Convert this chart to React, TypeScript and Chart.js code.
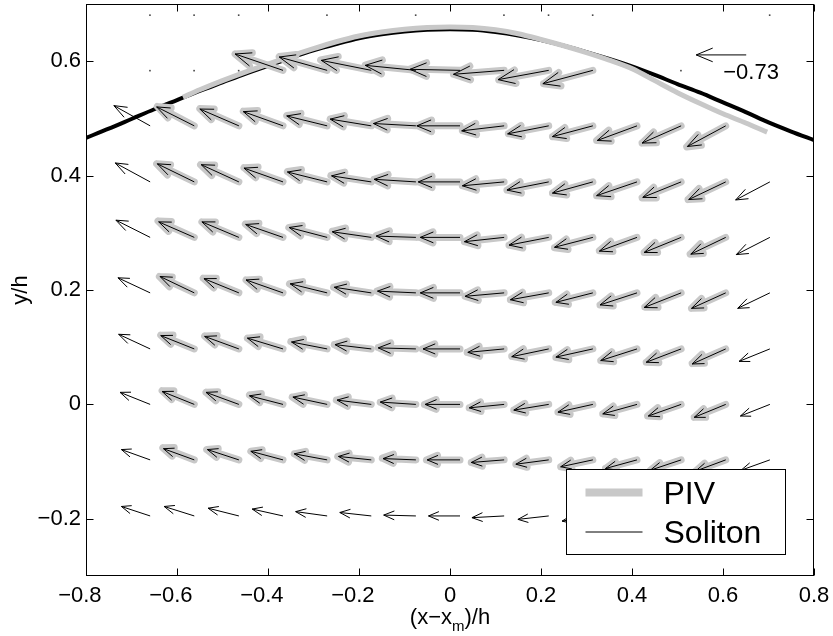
import React, { useEffect, useRef } from 'react';
import { Chart, registerables } from 'chart.js';
Chart.register(...registerables);

const FONT = '"Liberation Sans", Arial, Helvetica, sans-serif';

// ---- axes ----
const xTickValues = [-0.8, -0.6, -0.4, -0.2, 0, 0.2, 0.4, 0.6, 0.8];
const xTickLabels = ['−0.8', '−0.6', '−0.4', '−0.2', '0', '0.2', '0.4', '0.6', '0.8'];
const yTickValues = [-0.2, 0, 0.2, 0.4, 0.6];
const yTickLabels = ['−0.2', '0', '0.2', '0.4', '0.6'];

// ---- quiver grid ----
const gridX = [-0.659, -0.562, -0.464, -0.367, -0.27, -0.173, -0.075, 0.022, 0.119, 0.217, 0.314, 0.411, 0.508, 0.606, 0.703];
const gridY = [-0.195, -0.097, 0.0, 0.097, 0.195, 0.292, 0.389, 0.487, 0.584, 0.681];

// Soliton velocity (u, v), one row per gridY
const solitonU = [
  [-0.42, -0.44, -0.45, -0.45, -0.46, -0.46, -0.47, -0.46, -0.47, -0.45, -0.45, -0.45, -0.44, -0.43, -0.42],
  [-0.42, -0.45, -0.46, -0.47, -0.48, -0.48, -0.48, -0.48, -0.48, -0.48, -0.47, -0.46, -0.45, -0.44, -0.42],
  [-0.44, -0.47, -0.48, -0.49, -0.5, -0.5, -0.52, -0.51, -0.51, -0.51, -0.51, -0.5, -0.48, -0.46, -0.43],
  [-0.46, -0.49, -0.5, -0.52, -0.52, -0.53, -0.55, -0.54, -0.53, -0.54, -0.54, -0.53, -0.51, -0.49, -0.45],
  [-0.47, -0.5, -0.51, -0.54, -0.54, -0.54, -0.56, -0.58, -0.57, -0.56, -0.54, -0.54, -0.54, -0.5, -0.47],
  [-0.5, -0.52, -0.54, -0.545, -0.555, -0.57, -0.58, -0.58, -0.58, -0.58, -0.56, -0.55, -0.54, -0.51, -0.49],
  [-0.51, -0.54, -0.55, -0.57, -0.58, -0.58, -0.61, -0.61, -0.61, -0.61, -0.59, -0.59, -0.56, -0.54, -0.5],
  [-0.53, -0.55, -0.57, -0.58, -0.59, -0.6, -0.62, -0.63, -0.62, -0.6, -0.59, -0.58, -0.57, -0.56, null],
  [0, 0, 0, -0.7, -0.7, -0.73, -0.74, -0.73, -0.74, -0.74, -0.73, null, 0, null, null],
  [0, 0, 0, null, 0, null, 0, null, 0, 0, 0, null, null, null, 0],
];
const solitonV = [
  [0.11, 0.11, 0.09, 0.08, 0.05, 0.04, 0.01, 0, -0.02, -0.04, -0.06, -0.075, -0.085, -0.1, -0.105],
  [0.12, 0.13, 0.12, 0.1, 0.07, 0.04, 0.015, 0, -0.03, -0.05, -0.08, -0.1, -0.12, -0.13, -0.12],
  [0.14, 0.15, 0.14, 0.1, 0.085, 0.05, 0.027, 0, -0.04, -0.066, -0.09, -0.11, -0.135, -0.15, -0.135],
  [0.17, 0.155, 0.145, 0.125, 0.08, 0.05, 0.012, 0, -0.04, -0.09, -0.095, -0.135, -0.155, -0.175, -0.145],
  [0.175, 0.19, 0.165, 0.15, 0.105, 0.065, 0.02, 0, -0.04, -0.08, -0.11, -0.14, -0.17, -0.18, -0.18],
  [0.2, 0.18, 0.18, 0.15, 0.115, 0.065, 0.015, 0, -0.05, -0.09, -0.115, -0.16, -0.175, -0.195, -0.2],
  [0.22, 0.21, 0.2, 0.16, 0.115, 0.07, 0.03, 0, -0.045, -0.095, -0.13, -0.16, -0.18, -0.205, -0.21],
  [0.235, 0.22, 0.195, 0.165, 0.115, 0.078, 0.027, 0, -0.058, -0.093, -0.125, -0.17, -0.2, -0.24, null],
  [0, 0, 0, 0.19, 0.155, 0.116, 0.058, 0.012, -0.046, -0.108, -0.155, null, 0, null, null],
  [0, 0, 0, null, 0, null, 0, null, 0, 0, 0, null, null, null, 0],
];

// PIV velocity (u, v)
const pivU = [
  [null, null, null, null, null, null, null, null, null, null, null, null, null, null, null],
  [null, -0.46, -0.47, -0.47, -0.48, -0.49, -0.49, -0.49, -0.48, -0.48, -0.47, -0.46, -0.45, -0.44, null],
  [null, -0.47, -0.48, -0.49, -0.51, -0.51, -0.52, -0.52, -0.51, -0.51, -0.51, -0.5, -0.49, -0.46, null],
  [null, -0.49, -0.5, -0.52, -0.53, -0.54, -0.55, -0.55, -0.54, -0.54, -0.54, -0.53, -0.51, -0.49, null],
  [null, -0.51, -0.52, -0.54, -0.55, -0.55, -0.57, -0.58, -0.57, -0.56, -0.55, -0.54, -0.53, -0.5, null],
  [null, -0.53, -0.54, -0.55, -0.56, -0.57, -0.58, -0.59, -0.58, -0.58, -0.56, -0.55, -0.54, -0.52, null],
  [null, -0.55, -0.56, -0.57, -0.58, -0.59, -0.61, -0.61, -0.61, -0.61, -0.59, -0.59, -0.57, -0.55, null],
  [null, -0.54, -0.57, -0.58, -0.59, -0.6, -0.62, -0.62, -0.61, -0.59, -0.59, -0.59, -0.57, -0.57, null],
  [null, null, null, -0.7, -0.7, -0.74, -0.74, -0.73, -0.74, -0.73, -0.72, null, null, null, null],
  [null, null, null, null, null, null, null, null, null, null, null, null, null, null, null],
];
const pivV = [
  [null, null, null, null, null, null, null, null, null, null, null, null, null, null, null],
  [null, 0.14, 0.12, 0.1, 0.07, 0.04, 0.02, 0, -0.03, -0.05, -0.08, -0.1, -0.12, -0.13, null],
  [null, 0.16, 0.14, 0.11, 0.085, 0.05, 0.025, 0, -0.04, -0.065, -0.09, -0.11, -0.135, -0.15, null],
  [null, 0.16, 0.15, 0.125, 0.085, 0.05, 0.015, 0, -0.04, -0.085, -0.1, -0.135, -0.155, -0.17, null],
  [null, 0.19, 0.17, 0.15, 0.105, 0.065, 0.02, 0, -0.04, -0.08, -0.11, -0.14, -0.165, -0.18, null],
  [null, 0.19, 0.18, 0.155, 0.115, 0.07, 0.02, 0, -0.05, -0.09, -0.12, -0.155, -0.175, -0.195, null],
  [null, 0.21, 0.2, 0.165, 0.12, 0.075, 0.03, 0, -0.045, -0.095, -0.13, -0.16, -0.185, -0.205, null],
  [null, 0.225, 0.2, 0.17, 0.12, 0.08, 0.03, 0, -0.055, -0.09, -0.125, -0.17, -0.2, -0.245, null],
  [null, null, null, 0.19, 0.16, 0.12, 0.06, 0.015, -0.045, -0.11, -0.155, null, null, null, null],
  [null, null, null, null, null, null, null, null, null, null, null, null, null, null, null],
];

// reference arrow
const refX = 0.651;
const refY = 0.611;
const refU = -0.73;
const refLabel = '−0.73';

// ---- free surface ----
const surfX = [-0.8, -0.75, -0.7, -0.65, -0.6, -0.55, -0.5, -0.45, -0.4, -0.35, -0.3, -0.25, -0.2, -0.15, -0.1, -0.05, 0, 0.05, 0.1, 0.15, 0.2, 0.25, 0.3, 0.35, 0.4, 0.45, 0.5, 0.55, 0.6, 0.65, 0.7, 0.75, 0.8];
const solitonSurf = [0.466, 0.482, 0.499, 0.516, 0.532, 0.548, 0.563, 0.578, 0.592, 0.606, 0.619, 0.63, 0.64, 0.647, 0.652, 0.655, 0.656, 0.655, 0.651, 0.645, 0.637, 0.627, 0.616, 0.604, 0.591, 0.576, 0.56, 0.545, 0.528, 0.511, 0.493, 0.477, 0.462];
const pivSurfX = [-0.587, -0.55, -0.5, -0.45, -0.4, -0.35, -0.3, -0.25, -0.2, -0.15, -0.1, -0.05, 0, 0.05, 0.1, 0.15, 0.2, 0.25, 0.3, 0.35, 0.4, 0.45, 0.5, 0.55, 0.6, 0.65, 0.697];
const pivSurf = [0.537, 0.55, 0.566, 0.581, 0.595, 0.609, 0.622, 0.634, 0.644, 0.651, 0.656, 0.659, 0.66, 0.659, 0.655, 0.648, 0.638, 0.627, 0.615, 0.602, 0.587, 0.566, 0.545, 0.526, 0.508, 0.492, 0.476];

const legendLabels = ['PIV', 'Soliton'];

const QS = 0.1505; // quiver scale (data units per velocity unit)
const ALPHA = 0.33;
const BETA = 0.33;
const GRAY = '#c8c8c8';

function arrowPath(ctx: CanvasRenderingContext2D, xs: any, ys: any, x0: number, y0: number, u: number, v: number) {
  const su = QS * u, sv = QS * v;
  const tx = x0 + su, ty = y0 + sv;
  const b1x = tx - ALPHA * (su + BETA * sv), b1y = ty - ALPHA * (sv - BETA * su);
  const b2x = tx - ALPHA * (su - BETA * sv), b2y = ty - ALPHA * (sv + BETA * su);
  const px = (a: number) => xs.getPixelForValue(a);
  const py = (b: number) => ys.getPixelForValue(b);
  ctx.moveTo(px(x0), py(y0));
  ctx.lineTo(px(tx), py(ty));
  ctx.moveTo(px(b1x), py(b1y));
  ctx.lineTo(px(tx), py(ty));
  ctx.lineTo(px(b2x), py(b2y));
}

const quiverPlugin = {
  id: 'quiver',
  afterDatasetsDraw(chart: any) {
    const { ctx, chartArea: ca, scales } = chart;
    const xs = scales.x, ys = scales.y;
    ctx.save();
    ctx.beginPath();
    ctx.rect(ca.left, ca.top, ca.right - ca.left, ca.bottom - ca.top);
    ctx.clip();
    // PIV arrows
    ctx.strokeStyle = GRAY;
    ctx.lineWidth = 7;
    ctx.lineCap = 'round';
    ctx.lineJoin = 'round';
    for (let r = 0; r < gridY.length; r++) {
      for (let c = 0; c < gridX.length; c++) {
        const u = pivU[r][c], v = pivV[r][c];
        if (u === null || v === null) continue;
        ctx.beginPath();
        arrowPath(ctx, xs, ys, gridX[c], gridY[r], u, v);
        ctx.stroke();
      }
    }
    // Soliton arrows
    ctx.strokeStyle = '#000';
    ctx.lineWidth = 1;
    ctx.lineCap = 'butt';
    ctx.lineJoin = 'miter';
    for (let r = 0; r < gridY.length; r++) {
      for (let c = 0; c < gridX.length; c++) {
        const u = solitonU[r][c], v = solitonV[r][c];
        if (u === null || v === null) continue;
        if (u === 0 && v === 0) {
          ctx.fillStyle = '#444';
          ctx.fillRect(xs.getPixelForValue(gridX[c]) - 1, ys.getPixelForValue(gridY[r]) - 0.5, 1.6, 1.6);
          continue;
        }
        ctx.beginPath();
        arrowPath(ctx, xs, ys, gridX[c], gridY[r], u, v);
        ctx.stroke();
      }
    }
    // reference arrow
    ctx.beginPath();
    arrowPath(ctx, xs, ys, refX, refY, refU, 0);
    ctx.stroke();
    ctx.fillStyle = '#000';
    ctx.font = `22px ${FONT}`;
    ctx.textAlign = 'left';
    ctx.textBaseline = 'middle';
    ctx.fillText(refLabel, xs.getPixelForValue(refX) - 23, ys.getPixelForValue(refY) + 18);
    ctx.restore();
  },
  afterDraw(chart: any) {
    const { ctx, chartArea: ca, scales } = chart;
    const xs = scales.x, ys = scales.y;
    ctx.save();
    // frame
    const L = Math.round(ca.left) + 0.5, R = Math.round(ca.right) - 0.5;
    const T = Math.round(ca.top) + 0.5, B = Math.round(ca.bottom) - 0.5;
    ctx.strokeStyle = '#000';
    ctx.lineWidth = 1;
    ctx.strokeRect(L, T, R - L, B - T);
    // inward ticks
    const TL = 7;
    ctx.beginPath();
    xTickValues.forEach((v) => {
      const p = Math.round(xs.getPixelForValue(v)) + 0.5;
      ctx.moveTo(p, B); ctx.lineTo(p, B - TL);
      ctx.moveTo(p, T); ctx.lineTo(p, T + TL);
    });
    yTickValues.forEach((v) => {
      const p = Math.round(ys.getPixelForValue(v)) + 0.5;
      ctx.moveTo(L, p); ctx.lineTo(L + TL, p);
      ctx.moveTo(R, p); ctx.lineTo(R - TL, p);
    });
    ctx.stroke();

    // x title with subscript
    const cx = (ca.left + ca.right) / 2;
    const base = ca.bottom + 48;
    const t1 = '(x−x', t2 = 'm', t3 = ')/h';
    ctx.fillStyle = '#000';
    ctx.textBaseline = 'alphabetic';
    ctx.textAlign = 'left';
    ctx.font = `22px ${FONT}`;
    const w1 = ctx.measureText(t1).width, w3 = ctx.measureText(t3).width;
    ctx.font = `15px ${FONT}`;
    const w2 = ctx.measureText(t2).width;
    let sx = cx - (w1 + w2 + w3) / 2;
    ctx.font = `22px ${FONT}`;
    ctx.fillText(t1, sx, base);
    sx += w1;
    ctx.font = `15px ${FONT}`;
    ctx.fillText(t2, sx, base + 7);
    sx += w2;
    ctx.font = `22px ${FONT}`;
    ctx.fillText(t3, sx, base);

    // legend
    const lw = 219, lh = 85;
    const lx = Math.round(ca.right - 29 - lw) + 0.5;
    const ly = Math.round(ca.bottom - 22 - lh) + 0.5;
    ctx.fillStyle = '#fff';
    ctx.fillRect(lx, ly, lw, lh);
    ctx.strokeStyle = '#000';
    ctx.lineWidth = 1;
    ctx.strokeRect(lx, ly, lw, lh);
    ctx.lineCap = 'butt';
    ctx.strokeStyle = GRAY;
    ctx.lineWidth = 8;
    ctx.beginPath();
    ctx.moveTo(lx + 19, ly + 23); ctx.lineTo(lx + 76, ly + 23);
    ctx.stroke();
    ctx.strokeStyle = '#000';
    ctx.lineWidth = 1;
    ctx.beginPath();
    ctx.moveTo(lx + 19, ly + 62.5); ctx.lineTo(lx + 76, ly + 62.5);
    ctx.stroke();
    ctx.fillStyle = '#000';
    ctx.font = `32px ${FONT}`;
    ctx.textAlign = 'left';
    ctx.textBaseline = 'alphabetic';
    ctx.fillText(legendLabels[0], lx + 97, ly + 34);
    ctx.fillText(legendLabels[1], lx + 97, ly + 73.5);
    ctx.restore();
  },
};

export default function App() {
  const ref = useRef<HTMLCanvasElement | null>(null);
  useEffect(() => {
    if (!ref.current) return;
    const chart = new Chart(ref.current, {
      type: 'line',
      data: {
        datasets: [
          {
            label: 'PIV surface',
            data: pivSurfX.map((x, i) => ({ x, y: pivSurf[i] })),
            borderColor: GRAY,
            borderWidth: 5,
            pointRadius: 0,
            tension: 0.3,
            clip: 0,
            fill: false,
          },
          {
            label: 'Soliton surface',
            data: surfX.map((x, i) => ({ x, y: solitonSurf[i] })),
            borderColor: '#000',
            borderWidth: 4,
            pointRadius: 0,
            tension: 0.3,
            clip: 0,
            fill: false,
          },
        ],
      },
      options: {
        animation: false,
        responsive: false,
        maintainAspectRatio: false,
        devicePixelRatio: 1,
        layout: { padding: { left: 0, right: 19, top: 4, bottom: 0 } },
        plugins: { legend: { display: false }, tooltip: { enabled: false } },
        events: [],
        scales: {
          x: {
            type: 'linear',
            position: 'bottom',
            min: -0.8,
            max: 0.8,
            grid: { display: false, drawTicks: false },
            border: { display: false },
            afterBuildTicks: (s: any) => { s.ticks = xTickValues.map((v) => ({ value: v })); },
            afterFit: (s: any) => {
              s.height = 60;
              s.paddingLeft = 0; s.paddingRight = 0; s.paddingTop = 0; s.paddingBottom = 0;
            },
            ticks: {
              autoSkip: false,
              maxRotation: 0,
              padding: 7,
              color: '#000',
              font: { family: FONT, size: 22 },
              callback: (val: any) => {
                const i = xTickValues.findIndex((t) => Math.abs(t - val) < 1e-9);
                const lab = i >= 0 ? xTickLabels[i] : '';
                return lab.startsWith('−') ? lab + '\u2007' : lab;
              },
            },
          },
          y: {
            type: 'linear',
            position: 'left',
            min: -0.3,
            max: 0.7,
            grid: { display: false, drawTicks: false },
            border: { display: false },
            afterBuildTicks: (s: any) => { s.ticks = yTickValues.map((v) => ({ value: v })); },
            afterFit: (s: any) => {
              s.width = 86;
              s.paddingLeft = 0; s.paddingRight = 0; s.paddingTop = 0; s.paddingBottom = 0;
            },
            title: {
              display: true,
              text: 'y/h',
              color: '#000',
              font: { family: FONT, size: 22 },
              padding: { top: 8, bottom: 0 },
            },
            ticks: {
              autoSkip: false,
              padding: 5,
              color: '#000',
              font: { family: FONT, size: 22 },
              callback: (val: any) => {
                const i = yTickValues.findIndex((t) => Math.abs(t - val) < 1e-9);
                return i >= 0 ? yTickLabels[i] : '';
              },
            },
          },
        },
      } as any,
      plugins: [quiverPlugin],
    });
    return () => chart.destroy();
  }, []);
  return (
    <div style={{ position: 'absolute', left: 0, top: 0, width: 833, height: 636, background: '#fff' }}>
      <canvas ref={ref} width={833} height={636} style={{ display: 'block' }} />
    </div>
  );
}
